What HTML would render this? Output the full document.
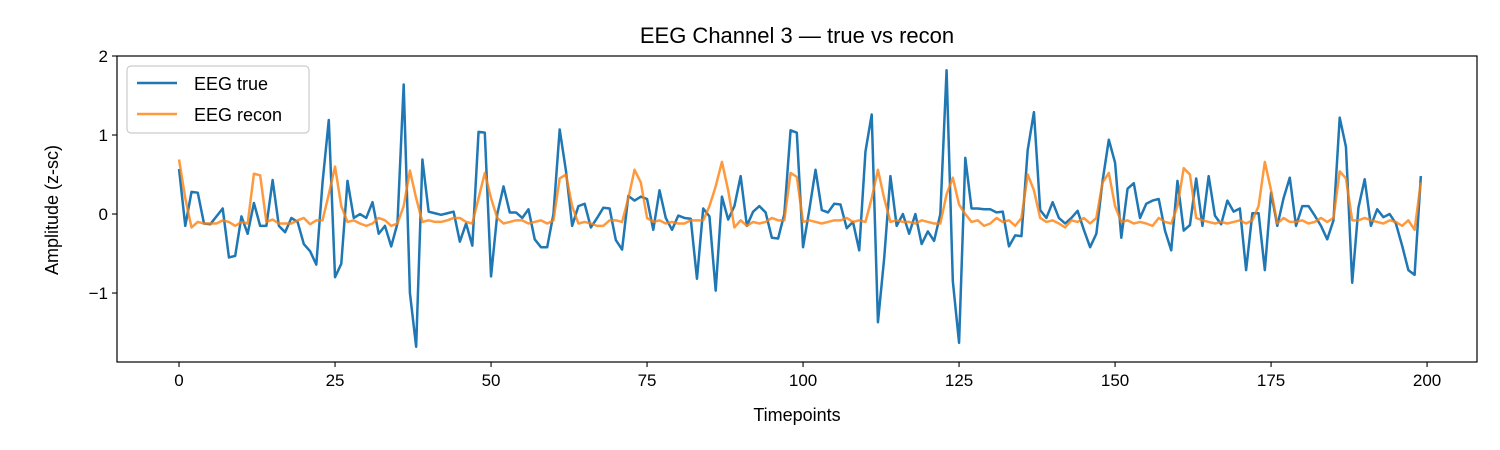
<!DOCTYPE html>
<html><head><meta charset="utf-8"><style>
body{margin:0;background:#fff;}
svg{display:block;font-family:"Liberation Sans","DejaVu Sans",sans-serif;}
</style></head><body>
<svg id="chart" width="1500" height="450">
<rect width="1500" height="450" fill="#fff"/>
<text x="797" y="43" font-size="22" text-anchor="middle" fill="#000">EEG Channel 3 — true vs recon</text>
<g id="grid"></g>
<g id="series"></g>
<rect x="117" y="56" width="1360" height="306" fill="none" stroke="#000" stroke-width="1.2"/>
<text x="797" y="421" font-size="18" text-anchor="middle">Timepoints</text>
<text transform="translate(58,210) rotate(-90)" font-size="18" text-anchor="middle">Amplitude (z-sc)</text>
<g>
<rect x="127" y="66" width="182" height="67" rx="4" fill="#fff" stroke="#ccc" stroke-width="1.2"/>
<line x1="137" y1="83" x2="177" y2="83" stroke="#1f77b4" stroke-width="2.5"/>
<text x="194" y="90" font-size="18">EEG true</text>
<line x1="137" y1="114" x2="177" y2="114" stroke="#ff7f0e" stroke-opacity="0.8" stroke-width="2.5"/>
<text x="194" y="121" font-size="18">EEG recon</text>
</g>
</svg>
<script>
const xTicks=[0,25,50,75,100,125,150,175,200];
const yTicks=[-1,0,1,2];
const yTickLabels=["\u22121","0","1","2"];
const trueVals=[0.57,-0.15,0.28,0.27,-0.12,-0.13,-0.03,0.07,-0.55,-0.53,-0.03,-0.25,0.14,-0.15,-0.15,0.43,-0.15,-0.23,-0.05,-0.1,-0.38,-0.47,-0.64,0.4,1.19,-0.8,-0.63,0.42,-0.05,0.0,-0.05,0.15,-0.25,-0.15,-0.41,-0.12,1.64,-1.0,-1.68,0.69,0.03,0.01,-0.01,0.01,0.03,-0.35,-0.12,-0.4,1.04,1.03,-0.79,0.0,0.35,0.02,0.02,-0.05,0.06,-0.32,-0.42,-0.42,0.0,1.07,0.55,-0.15,0.1,0.13,-0.17,-0.05,0.08,0.07,-0.33,-0.45,0.23,0.17,0.22,0.19,-0.2,0.3,-0.05,-0.2,-0.02,-0.05,-0.06,-0.82,0.07,-0.03,-0.97,0.22,-0.07,0.1,0.48,-0.15,0.03,0.1,0.02,-0.3,-0.31,0.0,1.06,1.03,-0.42,0.05,0.56,0.05,0.02,0.13,0.12,-0.18,-0.1,-0.46,0.79,1.26,-1.37,-0.56,0.48,-0.15,0.0,-0.25,0.0,-0.38,-0.22,-0.34,0.0,1.82,-0.85,-1.63,0.71,0.07,0.07,0.06,0.06,0.02,0.03,-0.41,-0.27,-0.28,0.81,1.29,0.05,-0.05,0.15,-0.05,-0.12,-0.05,0.04,-0.2,-0.42,-0.25,0.42,0.94,0.65,-0.3,0.32,0.39,-0.05,0.13,0.17,0.19,-0.21,-0.46,0.42,-0.21,-0.14,0.45,-0.15,0.48,-0.02,-0.13,0.17,0.03,0.07,-0.71,0.01,0.01,-0.71,0.27,-0.15,0.2,0.46,-0.15,0.1,0.1,-0.02,-0.15,-0.32,-0.08,1.22,0.85,-0.87,0.08,0.44,-0.15,0.06,-0.04,0.0,-0.12,-0.4,-0.71,-0.77,0.48];
const reconVals=[0.69,0.2,-0.17,-0.1,-0.12,-0.12,-0.12,-0.08,-0.1,-0.15,-0.1,-0.12,0.51,0.49,-0.1,-0.07,-0.12,-0.12,-0.12,-0.08,-0.05,-0.13,-0.08,-0.08,0.25,0.6,0.1,-0.1,-0.08,-0.12,-0.15,-0.12,-0.05,-0.08,-0.15,-0.12,0.1,0.55,0.2,-0.1,-0.08,-0.1,-0.1,-0.08,-0.05,-0.05,-0.1,-0.12,0.2,0.52,0.2,-0.05,-0.12,-0.1,-0.08,-0.08,-0.12,-0.1,-0.08,-0.12,-0.08,0.45,0.5,0.1,-0.12,-0.1,-0.12,-0.15,-0.15,-0.08,-0.08,-0.1,0.2,0.56,0.4,-0.05,-0.1,-0.08,-0.12,-0.1,-0.12,-0.12,-0.08,-0.08,-0.08,0.1,0.35,0.66,0.3,-0.17,-0.08,-0.15,-0.1,-0.12,-0.1,-0.05,-0.08,-0.08,0.52,0.47,-0.1,-0.08,-0.1,-0.12,-0.1,-0.08,-0.08,-0.05,-0.1,-0.08,-0.1,0.2,0.56,0.2,-0.1,-0.08,-0.1,-0.1,-0.12,-0.08,-0.1,-0.12,-0.12,0.25,0.46,0.12,0.0,-0.1,-0.08,-0.15,-0.12,-0.05,-0.1,-0.08,-0.15,-0.05,0.5,0.3,-0.05,-0.1,-0.08,-0.12,-0.17,-0.08,-0.1,-0.05,-0.12,-0.05,0.4,0.52,0.1,-0.1,-0.08,-0.12,-0.1,-0.12,-0.15,-0.05,-0.1,-0.12,0.1,0.58,0.5,-0.05,-0.08,-0.1,-0.12,-0.1,-0.12,-0.1,-0.08,-0.12,-0.08,0.1,0.66,0.3,-0.12,-0.05,-0.1,-0.1,-0.08,-0.12,-0.1,-0.05,-0.1,-0.05,0.54,0.45,-0.08,-0.08,-0.05,-0.08,-0.1,-0.12,-0.08,-0.1,-0.15,-0.08,-0.2,0.4];

const L=117,R=1477,T=56,B=362;
const xMin=-9.94,xMax=208.0,yMin=-1.873,yMax=2;
const NS="http://www.w3.org/2000/svg";
function xs(v){return L+(v-xMin)/(xMax-xMin)*(R-L);}
function ys(v){return B-(v-yMin)/(yMax-yMin)*(B-T);}
const g=document.getElementById('grid');
const s=document.getElementById('series');
function mk(tag,attrs,parent){const e=document.createElementNS(NS,tag);for(const k in attrs)e.setAttribute(k,attrs[k]);parent.appendChild(e);return e;}
xTicks.forEach(t=>{
  const ln=mk('line',{x1:xs(t),x2:xs(t),y1:B,y2:B+5,stroke:'#000','stroke-width':1.1},g);
  
  
  const tx=mk('text',{x:xs(t),y:B+24,'font-size':17,'text-anchor':'middle'},g);
  tx.textContent=t;
  
  
});
yTicks.forEach((t,i)=>{
  const ln=mk('line',{x1:L-5,x2:L,y1:ys(t),y2:ys(t),stroke:'#000','stroke-width':1.1},g);
  
  
  const tx=mk('text',{x:L-9,y:ys(t)+6,'font-size':17,'text-anchor':'end'},g);
  tx.textContent=yTickLabels[i];
  
  
});
function line(vals,color,op,name){
  const d=vals.map((v,i)=>(i?'L':'M')+xs(i).toFixed(2)+','+ys(v).toFixed(2)).join('');
  const p=mk('path',{d:d,fill:'none',stroke:color,'stroke-opacity':op,'stroke-width':2.5,'stroke-linejoin':'round'},s);
  
  
}
line(trueVals,'#1f77b4',1,'eeg-true-line');
line(reconVals,'#ff7f0e',0.8,'eeg-recon-line');
</script>
</body></html>
